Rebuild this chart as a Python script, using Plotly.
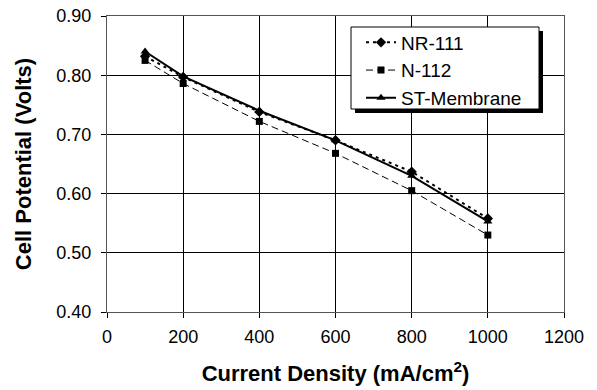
import plotly.graph_objects as go

current_density = [100, 200, 400, 600, 800, 1000]
nr111 = [0.832, 0.797, 0.738, 0.690, 0.637, 0.558]
n112 = [0.825, 0.786, 0.722, 0.668, 0.605, 0.530]
st_membrane = [0.840, 0.798, 0.740, 0.690, 0.630, 0.553]

x_ticks = [0, 200, 400, 600, 800, 1000, 1200]
y_ticks = [0.40, 0.50, 0.60, 0.70, 0.80, 0.90]

FONT = "Liberation Sans, Arial, sans-serif"
W, H = 597, 390
L, R, T, B = 107, 33, 16, 78
PW, PH = W - L - R, H - T - B


def px(x):
    return (x - L) / PW


def py(y):
    return 1 - (y - T) / PH


fig = go.Figure()
fig.add_trace(go.Scatter(
    x=current_density, y=nr111, name="NR-111", mode="lines+markers",
    line=dict(color="black", width=2, dash="3px,4px"),
    marker=dict(symbol="diamond", size=8, color="black")))
fig.add_trace(go.Scatter(
    x=current_density, y=n112, name="N-112", mode="lines+markers",
    line=dict(color="black", width=1, dash="7px,4px"),
    marker=dict(symbol="square", size=7, color="black")))
fig.add_trace(go.Scatter(
    x=current_density, y=st_membrane, name="ST-Membrane", mode="lines+markers",
    line=dict(color="black", width=2),
    marker=dict(symbol="triangle-up", size=8, color="black")))

axis_common = dict(
    showline=True, linecolor="#555555", linewidth=1, mirror=True,
    showgrid=True, gridcolor="black", gridwidth=1,
    ticks="outside", ticklen=5, tickcolor="black", zeroline=False,
    automargin=False,
    tickfont=dict(family=FONT, size=18, color="black"),
)

fig.update_layout(
    width=W, height=H,
    margin=dict(l=L, r=R, t=T, b=B),
    paper_bgcolor="white", plot_bgcolor="white",
    font=dict(family=FONT, color="black"),
    xaxis=dict(range=[0, 1200], tickvals=x_ticks,
               ticktext=[str(v) for v in x_ticks],
               ticklabelstandoff=3,
               title=dict(text="<b>Current Density (mA/cm<sup>2</sup>)</b>",
                          font=dict(size=22, family=FONT), standoff=20),
               **axis_common),
    yaxis=dict(range=[0.40, 0.90], tickvals=y_ticks,
               ticktext=[f"{v:.2f}" for v in y_ticks],
               ticklabelstandoff=6,
               title=dict(text="<b>Cell Potential (Volts)</b>",
                          font=dict(size=22, family=FONT), standoff=18),
               **axis_common),
    legend=dict(x=px(361), y=py(23.5), xanchor="left", yanchor="top",
                bgcolor="rgba(0,0,0,0)", borderwidth=0,
                font=dict(size=19, family=FONT),
                tracegroupgap=0),
    showlegend=True,
)

# legend box with drop shadow
fig.add_shape(type="rect", xref="paper", yref="paper",
              x0=px(355), x1=px(543), y0=py(113), y1=py(31),
              fillcolor="black", line=dict(width=0), layer="above")
fig.add_shape(type="rect", xref="paper", yref="paper",
              x0=px(351), x1=px(539), y0=py(109), y1=py(27),
              fillcolor="white", line=dict(color="black", width=1),
              layer="above")

fig.write_html("out.html",
               config={"displayModeBar": False},
               post_script="document.body.style.margin='0px';"
                           "document.body.style.overflow='hidden';")
